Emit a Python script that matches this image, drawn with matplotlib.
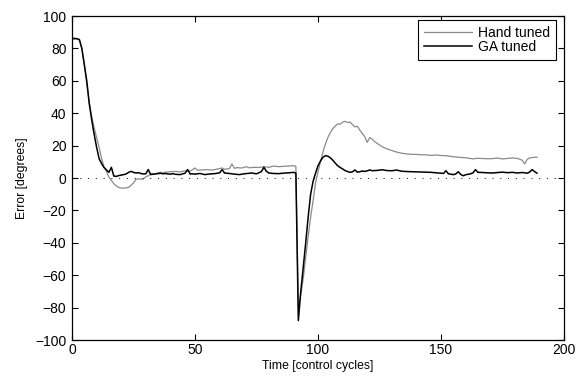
"""Heading error of the hand tuned and GA tuned controllers."""

import matplotlib.pyplot as plt
import numpy as np

plt.rcParams["font.family"] = ["Liberation Sans", "DejaVu Sans"]

HAND_COLOR = "#8a8a8a"
GA_COLOR = "#000000"

# time [control cycles] and error [degrees]
hand_t = [
    0, 1, 2, 3, 4, 5, 6, 7, 8, 9, 10, 11, 12, 13, 14, 15, 16, 17, 18, 19,
    20, 21, 22, 23, 24, 25, 26, 27, 28, 29, 30, 31, 32, 33, 34, 35, 36, 37,
    38, 40, 42, 44, 46, 48, 50, 51, 53, 55, 57, 59, 61, 62, 64, 65, 66, 67,
    69, 71, 72, 74, 76, 78, 80, 82, 84, 86, 88, 90, 91,
    92, 93, 94, 95, 96, 97, 98, 99, 100, 101, 102, 103, 104, 105, 106, 107,
    108, 109, 110, 111, 112, 113, 114, 115, 116, 117, 118, 119, 120, 121,
    122, 123, 124, 126, 128, 130, 132, 134, 136, 138, 140, 142, 144, 146,
    148, 150, 152, 154, 156, 158, 160, 162, 163, 165, 167, 169, 171, 173,
    175, 177, 179, 181, 183, 184, 185, 186, 187, 188, 189,
]
hand_err = [
    86.5, 86.5, 86, 85, 80, 70, 58, 47, 38, 31, 25, 19, 12, 7, 4, 0.5, -1.5,
    -3.5, -4.8, -5.8, -6.2, -6.3, -6.0, -5.8, -4.5, -3.0, -0.8, -0.5, -0.7,
    -0.6, 0.8, 1.4, 2.7, 2.2, 2.5, 3.3, 3.5, 3.2, 3.6, 3.9, 4.1, 3.8, 4.5,
    4.2, 6.2, 4.8, 5.0, 5.2, 4.9, 5.5, 6.2, 5.4, 5.8, 8.7, 6.0, 6.4, 6.2,
    7.0, 6.3, 6.6, 6.5, 7.0, 6.6, 7.4, 7.0, 7.2, 7.4, 7.6, 7.2,
    -80, -72, -62, -49, -36, -24, -14, -3, 4, 10, 16, 21, 25, 28, 30.5, 32,
    33.5, 33.2, 34.5, 35, 34.2, 34.6, 33, 31.5, 32, 29.5, 27.5, 25.5, 22,
    25, 24, 22.5, 21.5, 19.3, 18, 17, 16, 15.3, 14.9, 14.6, 14.6, 14.3,
    14.3, 14.0, 14.2, 13.9, 13.8, 13.3, 13.0, 12.7, 12.5, 12.0, 11.8, 12.2,
    12.0, 11.9, 12.0, 12.3, 11.8, 12.1, 12.4, 12.1, 11.0, 8.7, 11.5, 12.4,
    12.6, 12.8, 12.8,
]

ga_t = [
    0, 1, 2, 3, 4, 5, 6, 7, 8, 9, 10, 11, 12, 13, 14, 15, 16, 17, 18, 19,
    20, 21, 22, 23, 24, 25, 26, 27, 28, 29, 30, 31, 32, 33, 34, 35, 36, 37,
    38, 39, 40, 41, 42, 43, 44, 45, 46, 47, 48, 49, 50, 52, 54, 56, 58, 60,
    61, 62, 64, 66, 68, 70, 72, 73, 75, 77, 78, 79, 80, 82, 84, 86, 88, 90,
    91, 92, 93, 94, 95, 96, 97, 98, 99, 100, 101, 102, 103, 104, 105, 106,
    107, 108, 109, 110, 111, 112, 113, 114, 115, 116, 117, 118, 119, 120,
    121, 122, 124, 126, 128, 130, 132, 134, 136, 138, 140, 142, 144, 146,
    148, 150, 151, 152, 153, 155, 156, 157, 158, 159, 160, 162, 163, 164,
    165, 167, 169, 171, 173, 175, 177, 179, 181, 183, 185, 186, 187, 188,
    189,
]
ga_err = [
    86, 86, 86, 85.5, 80, 70, 60, 46, 36, 27, 19, 12, 9, 6.5, 5, 3.5, 6.6,
    1.2, 1.0, 1.5, 1.8, 2.1, 2.5, 3.5, 4.1, 3.5, 3.1, 3.3, 2.8, 2.5, 2.6,
    5.2, 2.1, 2.4, 2.6, 2.7, 2.9, 2.6, 2.8, 2.5, 2.4, 2.7, 2.3, 2.2, 2.1,
    2.6, 3.0, 5.2, 2.5, 2.6, 2.4, 2.8, 2.1, 2.5, 2.7, 3.2, 5.2, 3.1, 2.8,
    2.4, 2.1, 2.6, 2.9, 3.1, 2.6, 4.0, 6.6, 4.2, 3.1, 2.8, 2.7, 3.0, 3.2,
    3.5, 3.0, -88, -70, -55, -40, -24, -10, -2, 3, 7.6, 10.5, 12.8, 13.8,
    13.5, 12.5, 11.0, 9.2, 7.6, 6.5, 5.6, 4.6, 4.0, 3.5, 3.8, 5.0, 3.6,
    3.9, 4.3, 4.1, 4.4, 5.0, 4.5, 4.7, 5.1, 4.6, 4.5, 4.9, 4.2, 4.0, 3.9,
    3.8, 3.7, 3.6, 3.5, 3.2, 3.0, 2.8, 4.5, 2.6, 2.1, 2.5, 3.9, 2.2, 1.4,
    2.0, 2.6, 3.2, 5.2, 3.5, 3.4, 3.2, 3.1, 3.4, 3.6, 3.3, 3.5, 3.1, 3.4,
    3.0, 3.6, 5.2, 4.0, 3.0,
]

x_ticks = [0, 50, 100, 150, 200]
y_ticks = [-100, -80, -60, -40, -20, 0, 20, 40, 60, 80, 100]


def main() -> None:
    fig = plt.figure(figsize=(5.84, 3.76), dpi=100)
    ax = fig.add_axes([0.1233, 0.0957, 0.8425, 0.8617])

    ax.plot(hand_t, hand_err, color=HAND_COLOR, linewidth=0.9, label="Hand tuned")
    ax.plot(ga_t, ga_err, color=GA_COLOR, linewidth=1.1, label="GA tuned")
    ax.axhline(0, color="black", linestyle=(0, (1, 7)), linewidth=0.7)

    ax.set_xlim(0, 200)
    ax.set_ylim(-100, 100)
    ax.set_xticks(x_ticks)
    ax.set_yticks(y_ticks)
    ax.tick_params(direction="in", top=True, right=True, length=4,
                   width=0.8, labelsize=10, pad=2)
    ax.tick_params(axis="y", pad=4)
    for spine in ax.spines.values():
        spine.set_linewidth(0.9)

    ax.set_xlabel("Time [control cycles]", fontsize=8.8, labelpad=2.5)
    ax.set_ylabel("Error [degrees]", fontsize=8.8, labelpad=5)

    leg = ax.legend(loc="upper right", bbox_to_anchor=(0.9837, 0.9877),
                    fontsize=10, fancybox=False, framealpha=1,
                    borderaxespad=0, handlelength=3.5, borderpad=0.4,
                    labelspacing=0.05, handletextpad=0.45)
    leg.get_frame().set_edgecolor("black")
    leg.get_frame().set_linewidth(0.8)

    fig.savefig("out.png", dpi=100)
    plt.close(fig)


if __name__ == "__main__":
    main()
